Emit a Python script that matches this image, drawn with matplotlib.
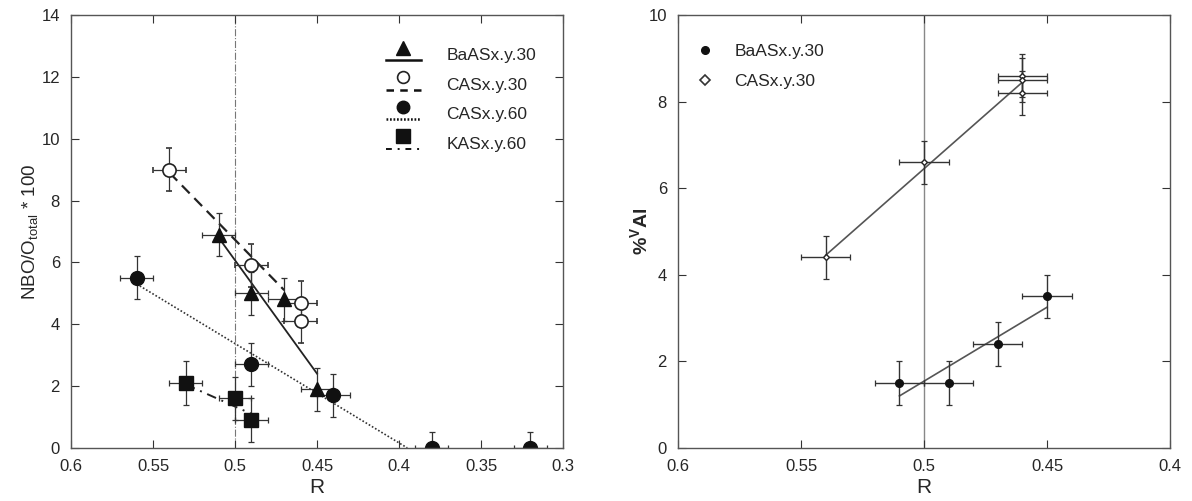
import numpy as np
import matplotlib
matplotlib.use("Agg")
import matplotlib.pyplot as plt
from matplotlib.lines import Line2D
from matplotlib.legend_handler import HandlerBase

plt.rcParams['font.family'] = ['Liberation Sans', 'DejaVu Sans']
plt.rcParams['mathtext.fontset'] = 'custom'
plt.rcParams['mathtext.rm'] = 'Liberation Sans'
plt.rcParams['mathtext.bf'] = 'Liberation Sans:bold'

# --- left panel: NBO/O_total * 100 vs R ---
r_baas = [0.51, 0.49, 0.47, 0.45]
nbo_baas = [6.9, 5.0, 4.8, 1.9]
r_cas30 = [0.54, 0.49, 0.46, 0.46]
nbo_cas30 = [9.0, 5.9, 4.7, 4.1]
r_cas60 = [0.56, 0.49, 0.44, 0.38, 0.32]
nbo_cas60 = [5.5, 2.7, 1.7, 0.0, 0.0]
yerr_cas60 = [0.7, 0.7, 0.7, 0.5, 0.5]
r_kas60 = [0.53, 0.50, 0.49]
nbo_kas60 = [2.1, 1.6, 0.9]

# fitted lines (end points)
fit_baas_r, fit_baas_y = [0.51, 0.45], [6.8, 2.4]
fit_cas30_r, fit_cas30_y = [0.54, 0.47], [8.9, 5.1]
fit_cas60_r, fit_cas60_y = [0.56, 0.395], [5.3, 0.0]
fit_kas60_r, fit_kas60_y = [0.53, 0.49], [2.05, 1.1]

# --- right panel: % VAl vs R ---
r_baas_al = [0.51, 0.49, 0.47, 0.45]
al_baas = [1.5, 1.5, 2.4, 3.5]
r_cas30_al = [0.54, 0.50, 0.46, 0.46, 0.46]
al_cas30 = [4.4, 6.6, 8.6, 8.5, 8.2]
fit_baas_al_r, fit_baas_al_y = [0.51, 0.45], [1.2, 3.25]
fit_cas30_al_r, fit_cas30_al_y = [0.54, 0.46], [4.45, 8.45]

TXT = '#262626'
EC = '#333333'


class MarkerAbove(HandlerBase):
    """Legend entry: marker drawn above a short line sample."""
    def create_artists(self, legend, orig_handle, xdescent, ydescent,
                       width, height, fontsize, trans):
        ymid = (height - ydescent) / 2
        line = Line2D([-xdescent, -xdescent + width], [ymid - 0.38 * height] * 2)
        line.update_from(orig_handle)
        line.set_marker('None')
        line.set_transform(trans)
        mk = Line2D([-xdescent + width / 2], [ymid + 0.18 * height])
        mk.update_from(orig_handle)
        mk.set_linestyle('None')
        mk.set_transform(trans)
        return [line, mk]


def style_axes(ax):
    ax.tick_params(direction='in', top=True, right=True, length=6,
                   width=0.8, labelsize=12, colors=EC, labelcolor=TXT, pad=8)
    for s in ax.spines.values():
        s.set_color('#555555')
        s.set_linewidth(1.0)


fig = plt.figure(figsize=(11.92, 5.01), dpi=100)
ax1 = fig.add_axes([0.0596, 0.106, 0.4128, 0.864])
ax2 = fig.add_axes([0.5688, 0.106, 0.4128, 0.864])

eb = dict(ecolor=EC, elinewidth=0.9, capsize=2.5, capthick=0.9, linestyle='none')

ax1.axvline(0.5, color='#777777', lw=0.8, ls='-.', zorder=1)

ax1.plot(fit_baas_r, fit_baas_y, color='#222222', lw=1.3, ls='-')
ax1.plot(fit_cas30_r, fit_cas30_y, color='#222222', lw=1.6, ls=(0, (5, 3)))
ax1.plot(fit_cas60_r, fit_cas60_y, color='#333333', lw=1.2, ls=(0, (1, 1.2)))
ax1.plot(fit_kas60_r, fit_kas60_y, color='#222222', lw=1.4, ls=(0, (5, 3, 1, 3)))

ax1.errorbar(r_baas, nbo_baas, xerr=0.01, yerr=0.7, marker='^', ms=10,
             mfc='#111111', mec='#111111', **eb)
ax1.errorbar(r_cas30, nbo_cas30, xerr=0.01, yerr=0.7, marker='o', ms=9.5,
             mfc='white', mec='#222222', mew=1.2, **eb)
ax1.errorbar(r_cas60, nbo_cas60, xerr=0.01, yerr=yerr_cas60, marker='o', ms=10,
             mfc='#111111', mec='#111111', **eb)
ax1.errorbar(r_kas60, nbo_kas60, xerr=0.01, yerr=0.7, marker='s', ms=9.5,
             mfc='#111111', mec='#111111', **eb)

ax1.set_xlim(0.6, 0.3)
ax1.set_ylim(0, 14)
ax1.set_xticks([0.6, 0.55, 0.5, 0.45, 0.4, 0.35, 0.3])
ax1.set_xticklabels(['0.6', '0.55', '0.5', '0.45', '0.4', '0.35', '0.3'])
ax1.set_yticks(np.arange(0, 15, 2))
ax1.set_xlabel('R', fontsize=15, color=TXT, labelpad=3)
ax1.set_ylabel('NBO/O$_{\\mathrm{total}}$ * 100', fontsize=13.5, color=TXT, labelpad=0)
style_axes(ax1)

h1 = [
    Line2D([], [], color='#111111', lw=1.8, ls='-', marker='^', ms=10,
           mfc='#111111', mec='#111111'),
    Line2D([], [], color='#111111', lw=1.8, ls=(0, (3, 2.5)), marker='o', ms=8.5,
           mfc='white', mec='#222222', mew=1.2),
    Line2D([], [], color='#111111', lw=1.8, ls=(0, (0.7, 0.7)), marker='o', ms=9,
           mfc='#111111', mec='#111111'),
    Line2D([], [], color='#111111', lw=1.4, ls=(0, (3, 3, 1, 3)), marker='s', ms=10,
           mfc='#111111', mec='#111111'),
]
ax1.legend(h1, ['BaASx.y.30', 'CASx.y.30', 'CASx.y.60', 'KASx.y.60'],
           handler_map={Line2D: MarkerAbove()},
           loc='upper left', bbox_to_anchor=(0.622, 0.955), borderpad=0,
           frameon=False, fontsize=12.5, handlelength=2.0, handleheight=1.6,
           labelspacing=0.42, handletextpad=1.5, labelcolor=TXT)

# right panel
ax2.axvline(0.5, color='#888888', lw=1.0, zorder=1)
ax2.plot(fit_cas30_al_r, fit_cas30_al_y, color='#555555', lw=1.2)
ax2.plot(fit_baas_al_r, fit_baas_al_y, color='#555555', lw=1.2)

eb2 = dict(ecolor='#333333', elinewidth=1.0, capsize=2.5, capthick=0.9, linestyle='none')
ax2.errorbar(r_baas_al, al_baas, xerr=0.01, yerr=0.5, marker='o', ms=5.5,
             mfc='#111111', mec='#111111', **eb2)
ax2.errorbar(r_cas30_al, al_cas30, xerr=0.01, yerr=0.5, marker='D', ms=3,
             mfc='white', mec='#222222', **eb2)

ax2.set_xlim(0.6, 0.4)
ax2.set_ylim(0, 10)
ax2.set_xticks([0.6, 0.55, 0.5, 0.45, 0.4])
ax2.set_xticklabels(['0.6', '0.55', '0.5', '0.45', '0.4'])
ax2.set_yticks(np.arange(0, 11, 2))
ax2.set_xlabel('R', fontsize=15, color=TXT, labelpad=3)
ax2.set_ylabel('%$^{\\mathbf{V}}$Al', fontsize=14, fontweight='bold', color=TXT, labelpad=-3)
style_axes(ax2)

h2 = [
    Line2D([], [], ls='none', marker='o', ms=5.5, mfc='#111111', mec='#111111'),
    Line2D([], [], ls='none', marker='D', ms=5, mfc='white', mec='#333333', mew=1.2),
]
ax2.legend(h2, ['BaASx.y.30', 'CASx.y.30'], loc='upper left',
           bbox_to_anchor=(0.019, 0.953), borderpad=0, frameon=False, fontsize=12.5,
           handlelength=1.0, handletextpad=1.2, labelspacing=0.85, labelcolor=TXT)

fig.savefig('out.png', dpi=100)
